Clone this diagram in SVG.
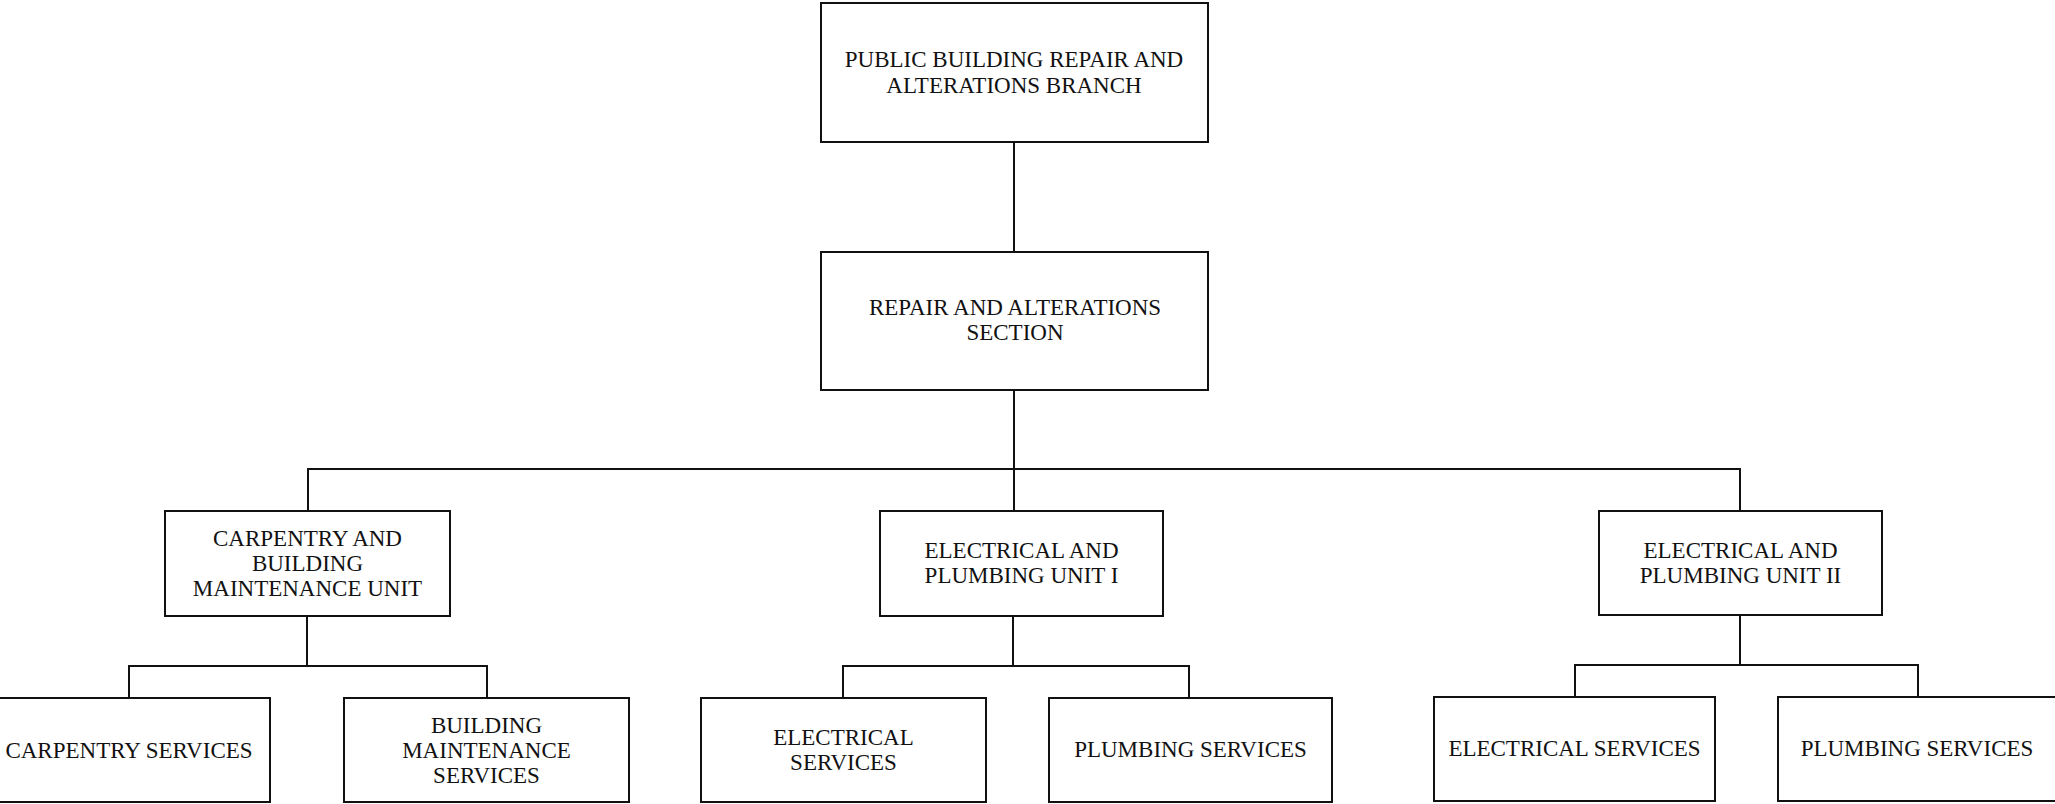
<svg xmlns="http://www.w3.org/2000/svg" width="2055" height="804" viewBox="0 0 2055 804">
<style>
.box{fill:#fff;stroke:#111;stroke-width:2}
.ln{fill:none;stroke:#111;stroke-width:2}
text{font-family:"Liberation Serif","Times New Roman",serif;font-size:23px;fill:#111;text-anchor:middle}
</style>
<rect width="2055" height="804" fill="#fff"/>
<g id="connectors">
<path class="ln" d="M1014 142V252"/>
<path class="ln" d="M1014 390V511"/>
<path class="ln" d="M308 511V469H1740V511"/>
<path class="ln" d="M307 616V666"/>
<path class="ln" d="M129 698V666H487V698"/>
<path class="ln" d="M1013 616V666"/>
<path class="ln" d="M843 698V666H1189V698"/>
<path class="ln" d="M1740 615V665"/>
<path class="ln" d="M1575 697V665H1918V697"/>
</g>
<g id="branch">
<rect class="box" x="821" y="3" width="387" height="139"/>
<text x="1014" y="67">PUBLIC BUILDING REPAIR AND</text>
<text x="1014" y="93">ALTERATIONS BRANCH</text>
</g>
<g id="section">
<rect class="box" x="821" y="252" width="387" height="138"/>
<text x="1015" y="315">REPAIR AND ALTERATIONS</text>
<text x="1015" y="340">SECTION</text>
</g>
<g id="carpentry-unit">
<rect class="box" x="165" y="511" width="285" height="105"/>
<text x="307.5" y="546">CARPENTRY AND</text>
<text x="307.5" y="571">BUILDING</text>
<text x="307.5" y="596">MAINTENANCE UNIT</text>
</g>
<g id="ep-unit-1">
<rect class="box" x="880" y="511" width="283" height="105"/>
<text x="1021.5" y="558">ELECTRICAL AND</text>
<text x="1021.5" y="583">PLUMBING UNIT I</text>
</g>
<g id="ep-unit-2">
<rect class="box" x="1599" y="511" width="283" height="104"/>
<text x="1740.5" y="558">ELECTRICAL AND</text>
<text x="1740.5" y="583">PLUMBING UNIT II</text>
</g>
<g id="carpentry-services">
<rect class="box" x="-12" y="698" width="282" height="104"/>
<text x="129" y="758">CARPENTRY SERVICES</text>
</g>
<g id="building-maintenance-services">
<rect class="box" x="344" y="698" width="285" height="104"/>
<text x="486.5" y="733">BUILDING</text>
<text x="486.5" y="758">MAINTENANCE</text>
<text x="486.5" y="783">SERVICES</text>
</g>
<g id="electrical-services-1">
<rect class="box" x="701" y="698" width="285" height="104"/>
<text x="843.5" y="745">ELECTRICAL</text>
<text x="843.5" y="770">SERVICES</text>
</g>
<g id="plumbing-services-1">
<rect class="box" x="1049" y="698" width="283" height="104"/>
<text x="1190.5" y="757">PLUMBING SERVICES</text>
</g>
<g id="electrical-services-2">
<rect class="box" x="1434" y="697" width="281" height="104"/>
<text x="1574.5" y="756">ELECTRICAL SERVICES</text>
</g>
<g id="plumbing-services-2">
<rect class="box" x="1778" y="697" width="278" height="104"/>
<text x="1917" y="756">PLUMBING SERVICES</text>
</g>
</svg>
